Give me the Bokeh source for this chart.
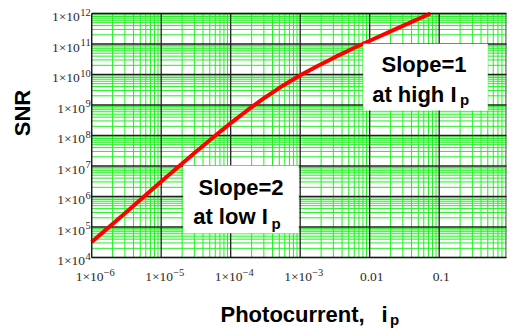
from bokeh.plotting import figure
from bokeh.models import Label, BoxAnnotation, ColumnDataSource
from bokeh.core.properties import value
from bokeh.embed import file_html
from bokeh.resources import INLINE

# ---- data ----
photocurrent = [1e-6, 3.16e-6, 1e-5, 3.16e-5, 5.62e-5, 1e-4, 1.78e-4, 3.16e-4, 5.62e-4,
                1e-3, 1.78e-3, 3.16e-3, 5.62e-3, 1e-2, 3.16e-2, 7.5e-2]
snr = [3.2e4, 3.1e5, 3.1e6, 2.95e7, 8.8e7, 2.55e8, 7.0e8, 1.8e9, 4.3e9,
       9.4e9, 1.9e10, 3.7e10, 7.0e10, 1.28e11, 4.15e11, 1.0e12]

x_ticks = [1e-6, 1e-5, 1e-4, 1e-3, 1e-2, 1e-1]
x_tick_base = ["1×10", "1×10", "1×10", "1×10", "0.01", "0.1"]
x_tick_sup = ["−6", "−5", "−4", "−3", "", ""]
y_ticks = [1e4, 1e5, 1e6, 1e7, 1e8, 1e9, 1e10, 1e11, 1e12]
y_tick_base = ["1×10"] * 9
y_tick_sup = ["4", "5", "6", "7", "8", "9", "10", "11", "12"]

x_lo, x_hi = 1e-6, 0.93      # plotted window
y_lo, y_hi = 1e4, 1e12

x_minor = [m * d for d in [1e-6, 1e-5, 1e-4, 1e-3, 1e-2, 1e-1] for m in range(2, 10) if m * d <= x_hi]
y_minor = [m * d for d in [1e4, 1e5, 1e6, 1e7, 1e8, 1e9, 1e10, 1e11] for m in range(2, 10)]

# the frame spans the whole canvas; the ranges are widened so that the
# plotted window sits where it does in the reference
p = figure(frame_width=507, frame_height=333, x_axis_type="log", y_axis_type="log",
           x_range=(10 ** -7.3123, 10 ** -0.0171), y_range=(10 ** 1.5082, 10 ** 12.4262),
           x_axis_location=None, y_axis_location=None, title=None,
           output_backend="svg", toolbar_location=None, min_border=0)
p.outline_line_color = None
p.background_fill_color = "white"
p.border_fill_color = "white"
p.grid.visible = False

GREEN = "#22ee22"
# minor grid
p.segment(x0=x_minor, x1=x_minor, y0=[y_lo] * len(x_minor), y1=[y_hi] * len(x_minor),
          line_color=GREEN, line_width=1)
p.segment(x0=[x_lo] * len(y_minor), x1=[x_hi] * len(y_minor), y0=y_minor, y1=y_minor,
          line_color=GREEN, line_width=1)
# major grid
p.segment(x0=x_ticks, x1=x_ticks, y0=[y_lo] * len(x_ticks), y1=[y_hi] * len(x_ticks),
          line_color="#202020", line_width=1.3)
p.segment(x0=[x_lo] * len(y_ticks), x1=[x_hi] * len(y_ticks), y0=y_ticks, y1=y_ticks,
          line_color="#202020", line_width=1.3)

# frame
p.add_layout(BoxAnnotation(left=x_lo, right=x_hi, bottom=y_lo, top=y_hi,
                           fill_color=None, line_color="black", line_width=1.5))

# curve
p.line(photocurrent, snr, line_color="red", line_width=4)

# ---- tick labels ----
TICK_FONT = value("Liberation Serif")
xs = ColumnDataSource(dict(x=x_ticks, y=[y_lo] * len(x_ticks), base=x_tick_base, sup=x_tick_sup,
                           xoff=[11.8 if s else 2 for s in x_tick_sup],
                           align=["right" if s else "center" for s in x_tick_sup]))
p.text(x="x", y="y", text="base", source=xs, x_offset="xoff", y_offset=19.5,
       text_align="align", text_baseline="middle", text_font=TICK_FONT,
       text_font_size="13.5px", text_color="#2a2a2a")
p.text(x="x", y="y", text="sup", source=xs, x_offset=12, y_offset=15.5,
       text_align="left", text_baseline="middle", text_font=TICK_FONT,
       text_font_size="10.5px", text_color="#2a2a2a")

ys = ColumnDataSource(dict(x=[x_lo] * len(y_ticks), y=y_ticks, base=y_tick_base, sup=y_tick_sup,
                           xoff=[-1.5 - 5.2 * len(s) for s in y_tick_sup]))
p.text(x="x", y="y", text="base", source=ys, x_offset="xoff", y_offset=3.5,
       text_align="right", text_baseline="middle", text_font=TICK_FONT,
       text_font_size="13.5px", text_color="#2a2a2a")
p.text(x="x", y="y", text="sup", source=ys, x_offset=-1, y_offset=-1.2,
       text_align="right", text_baseline="middle", text_font=TICK_FONT,
       text_font_size="10.5px", text_color="#2a2a2a")

# ---- white boxes (screen units; origin at bottom-left of canvas) ----
def box(l, r, b, t):
    p.add_layout(BoxAnnotation(left=l, right=r, bottom=b, top=t,
                               left_units="screen", right_units="screen",
                               bottom_units="screen", top_units="screen",
                               fill_color="white", fill_alpha=1, line_color=None))

box(362.7, 487.3, 223, 289.7)
box(182.7, 298.3, 100.3, 168)

def lab(x, y, text, size, align="left", angle=0):
    p.add_layout(Label(x=x, y=y, x_units="screen", y_units="screen", text=text,
                       text_font="Liberation Sans", text_font_style="bold",
                       text_font_size=size, text_align=align, text_baseline="middle",
                       text_color="black", angle=angle))

lab(423.5, 269.0, "Slope=1", "22px", "center")
lab(371.7, 239.2, "at high I", "22px")
lab(459.5, 234.2, "p", "15px")
lab(240.5, 146.3, "Slope=2", "22px", "center")
lab(192.7, 117.3, "at low I", "22px")
lab(271.0, 109.9, "p", "15px")
lab(220.0, 18.9, "Photocurrent,", "22px")
lab(381.0, 18.9, "i", "22px")
lab(389.5, 13.9, "p", "15px")
lab(22, 220.5, "SNR", "22px", "center", 1.5708)

open("out.html", "w").write(file_html(p, INLINE))
